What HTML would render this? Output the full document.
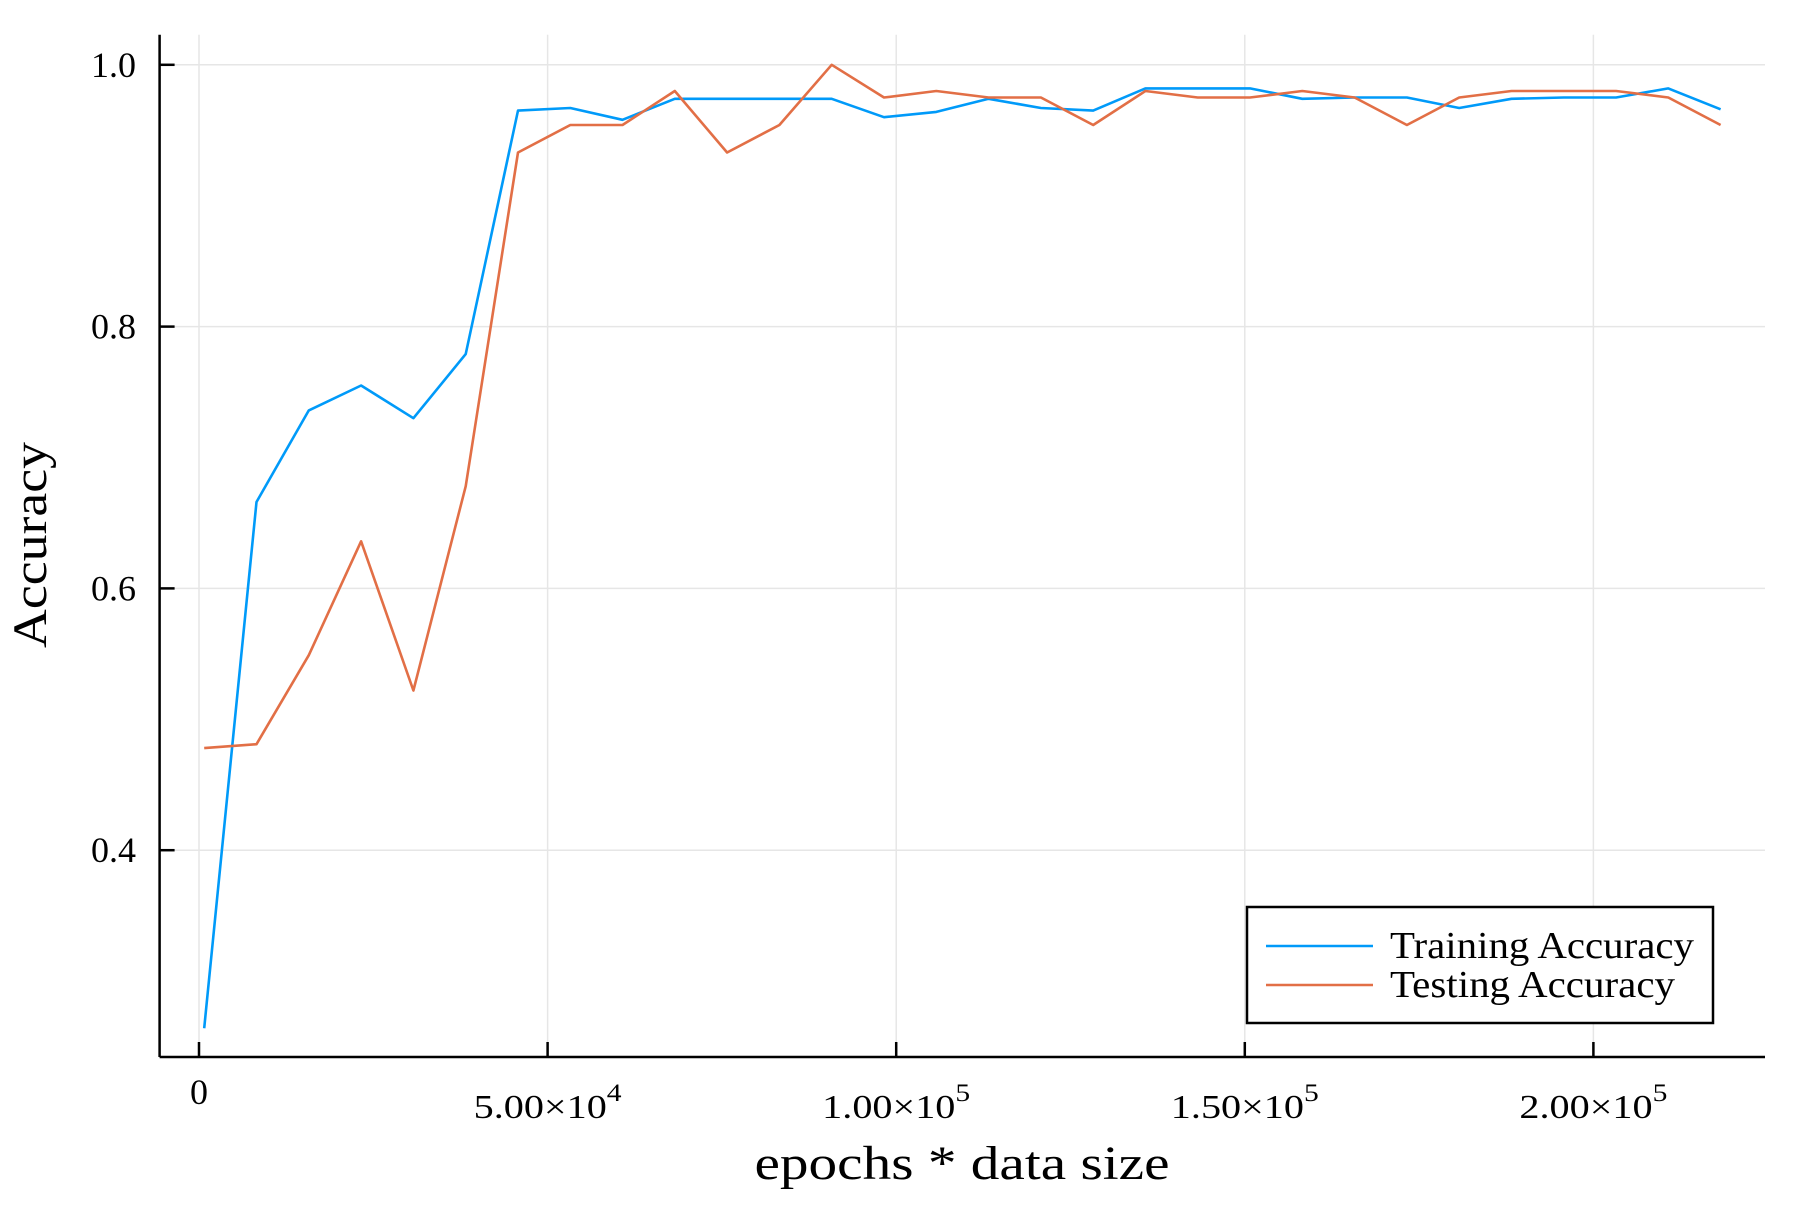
<!DOCTYPE html>
<html><head><meta charset="utf-8"><style>
html,body{margin:0;padding:0;background:#fff;}
svg text{font-family:"Liberation Serif","DejaVu Serif",serif;fill:#000;}
</style></head><body>
<svg id="chart" width="1800" height="1200" viewBox="0 0 1800 1200" xmlns="http://www.w3.org/2000/svg">
<rect width="1800" height="1200" fill="#fff"/>
<g id="grid"></g>
<g id="series"></g>
<g id="axes"></g>
<text x="962" y="1179" font-size="48" text-anchor="middle" textLength="415" lengthAdjust="spacingAndGlyphs">epochs * data size</text>
<text transform="translate(46,545) rotate(-90)" font-size="48" text-anchor="middle" textLength="206" lengthAdjust="spacingAndGlyphs">Accuracy</text>
<g>
<rect x="1247" y="907" width="466" height="116" fill="#fff" stroke="#000" stroke-width="2.5"/>
<line x1="1266" y1="946" x2="1373" y2="946" stroke="#009af9" stroke-width="2.5"/>
<text x="1390" y="958" font-size="38" textLength="304" lengthAdjust="spacingAndGlyphs">Training Accuracy</text>
<line x1="1266" y1="985" x2="1373" y2="985" stroke="#e26f46" stroke-width="2.5"/>
<text x="1390" y="997" font-size="38" textLength="285" lengthAdjust="spacingAndGlyphs">Testing Accuracy</text>
</g>
</svg>
<script>
const xValues = [750,8250,15750,23250,30750,38250,45750,53250,60750,68250,75750,83250,90750,98250,105750,113250,120750,128250,135750,143250,150750,158250,165750,173250,180750,188250,195750,203250,210750,218250];
const trainingAcc = [0.264,0.666,0.736,0.755,0.730,0.779,0.965,0.967,0.958,0.974,0.974,0.974,0.974,0.960,0.964,0.974,0.967,0.965,0.982,0.982,0.982,0.974,0.975,0.975,0.967,0.974,0.975,0.975,0.982,0.966];
const testingAcc = [0.478,0.481,0.549,0.636,0.522,0.678,0.933,0.954,0.954,0.980,0.933,0.954,1.0,0.975,0.980,0.975,0.975,0.954,0.980,0.975,0.975,0.980,0.975,0.954,0.975,0.980,0.980,0.980,0.975,0.954];
const xTicks = [0,50000,100000,150000,200000];
const xTickMant = ["0","5.00","1.00","1.50","2.00"];
const xTickExp = ["","4","5","5","5"];
const yTicks = [0.4,0.6,0.8,1.0];
const yTickLabels = ["0.4","0.6","0.8","1.0"];

const L=159.6,R=1765,T=34.7,B=1057;
function sx(v){return 199+v*(348.6/50000);}
function sy(v){return 64.8+(1.0-v)*(261.8/0.2);}
const NS="http://www.w3.org/2000/svg";
function mk(tag,attrs,parent){const e=document.createElementNS(NS,tag);for(const k in attrs)e.setAttribute(k,attrs[k]);parent.appendChild(e);return e;}
const grid=document.getElementById('grid'),axes=document.getElementById('axes'),series=document.getElementById('series');

xTicks.forEach((t,i)=>{
  const x=sx(t);
  const g=mk('line',{x1:x,y1:T,x2:x,y2:B,stroke:'#e6e6e6','stroke-width':1.5},grid);
  
  
  const tk=mk('line',{x1:x,y1:B,x2:x,y2:B-15,stroke:'#000','stroke-width':2.5},axes);
  
  
  const tx=mk('text',{x:x,y:xTickExp[i]?1118:1104,'font-size':xTickExp[i]?34:36,'text-anchor':'middle'},axes);
  
  
  if(xTickExp[i]){
    tx.setAttribute('textLength','148');
    tx.setAttribute('lengthAdjust','spacingAndGlyphs');
    tx.textContent=xTickMant[i]+"\u00d710";
    const sp=mk('tspan',{dy:-17,'font-size':25},tx);
    sp.textContent=xTickExp[i];
  } else tx.textContent=xTickMant[i];
});
yTicks.forEach((t,i)=>{
  const y=sy(t);
  const g=mk('line',{x1:L,y1:y,x2:R,y2:y,stroke:'#e6e6e6','stroke-width':1.5},grid);
  
  
  const tk=mk('line',{x1:L,y1:y,x2:L+15,y2:y,stroke:'#000','stroke-width':2.5},axes);
  
  
  const tx=mk('text',{x:136,y:y+12,'font-size':36,'text-anchor':'end'},axes);
  
  
  tx.textContent=yTickLabels[i];
});
const xa=mk('line',{x1:L,y1:B,x2:R,y2:B,stroke:'#000','stroke-width':2.5},axes);


const ya=mk('line',{x1:L,y1:B,x2:L,y2:T,stroke:'#000','stroke-width':2.5},axes);



function line(vals,color,name){
  const pts=vals.map((v,i)=>sx(xValues[i]).toFixed(1)+","+sy(v).toFixed(1)).join(" ");
  const p=mk('polyline',{points:pts,fill:'none',stroke:color,'stroke-width':2.6,'stroke-linejoin':'round'},series);
  
  
}
line(trainingAcc,'#009af9','training-accuracy-line');
line(testingAcc,'#e26f46','testing-accuracy-line');
</script>
</body></html>
